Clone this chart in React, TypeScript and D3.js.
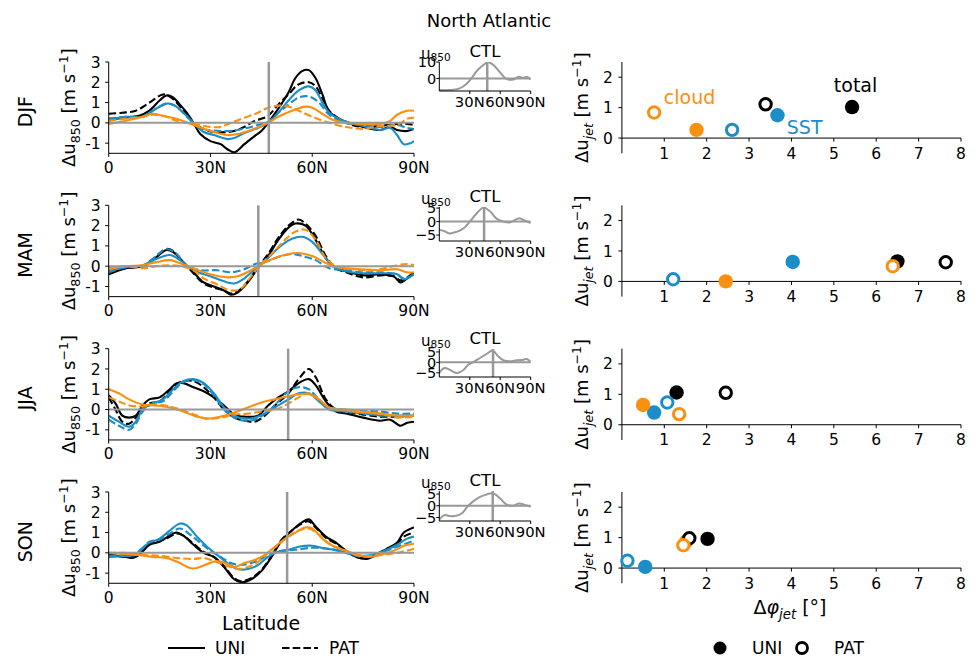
import React from "react";
import * as d3 from "d3";

type P = [number, number];

// ---------- line data: latitude (°N), Δu850 (m/s) ----------
const djfTotalUni: P[] = [[0,0.2],[3,0.22],[6,0.28],[9,0.35],[12,0.6],[15,1.1],[17,1.35],[19,1.25],[21,0.9],[23,0.5],[25,0],[27,-0.55],[30,-0.9],[33,-1.05],[35,-1.3],[37,-1.45],[40,-1.05],[43,-0.65],[45,-0.4],[47,0],[50,0.7],[53,1.5],[55,2.2],[57,2.55],[59,2.6],[61,2.2],[63,1.4],[65,0.55],[68,0.2],[70,0.05],[75,-0.2],[80,-0.35],[83,-0.2],[85,-0.35],[88,-0.4],[90,-0.3]];
const djfTotalPat: P[] = [[0,0.45],[4,0.5],[8,0.6],[12,1.0],[16,1.4],[18,1.3],[20,1.0],[23,0.4],[25,0],[28,-0.3],[31,-0.45],[35,-0.45],[37,-0.4],[40,-0.2],[43,0.1],[45,0.2],[47,0.35],[50,0.9],[53,1.4],[56,1.9],[59,2.0],[61,1.8],[63,1.2],[65,0.6],[70,0.0],[75,-0.2],[80,-0.15],[85,-0.05],[88,-0.05],[90,-0.1]];
const djfSstUni: P[] = [[0,0.15],[5,0.3],[10,0.3],[13,0.6],[17,0.95],[19,0.9],[22,0.5],[25,0],[28,-0.45],[31,-0.6],[35,-0.8],[37,-0.75],[40,-0.5],[44,-0.25],[47,0],[50,0.5],[53,1.1],[56,1.6],[59,1.8],[61,1.6],[63,1.0],[65,0.5],[70,0.05],[75,-0.15],[80,-0.35],[83,-0.25],[85,-0.6],[87,-1.05],[89,-1.0],[90,-0.9]];
const djfSstPat: P[] = [[0,0.2],[5,0.3],[10,0.3],[14,0.7],[17,0.95],[20,0.8],[23,0.3],[25,0],[28,-0.3],[31,-0.38],[35,-0.4],[38,-0.35],[42,-0.2],[45,-0.05],[47,0.05],[50,0.5],[53,0.9],[56,1.25],[59,1.3],[62,1.0],[65,0.4],[70,0],[75,-0.1],[80,-0.2],[85,-0.1],[88,-0.25],[90,-0.3]];
const djfCloudUni: P[] = [[0,-0.05],[5,0.1],[10,0.3],[13,0.45],[16,0.35],[20,0.2],[25,-0.1],[30,-0.4],[35,-0.6],[38,-0.55],[42,-0.35],[45,-0.15],[47,0],[50,0.3],[54,0.6],[58,0.8],[60,0.75],[63,0.45],[66,0.15],[70,0],[75,-0.05],[80,-0.05],[83,0.1],[85,0.4],[88,0.6],[90,0.6]];
const djfCloudPat: P[] = [[0,0.1],[5,0.2],[10,0.3],[13,0.4],[17,0.3],[20,0.1],[25,-0.05],[30,-0.2],[33,-0.2],[36,0],[40,0.25],[44,0.5],[47,0.75],[50,0.85],[53,0.8],[56,0.6],[60,0.3],[65,0],[70,-0.2],[75,-0.3],[80,-0.15],[85,-0.1],[88,0.2],[90,0.25]];

const mamTotalUni: P[] = [[0,-0.4],[5,-0.1],[10,0],[13,0.3],[17,0.8],[19,0.7],[22,0.2],[25,-0.3],[28,-0.8],[31,-1.0],[34,-1.2],[36,-1.4],[38,-1.3],[41,-0.8],[44,-0.1],[47,0.5],[50,1.3],[53,1.9],[55,2.1],[58,2.0],[61,1.3],[64,0.4],[67,-0.1],[70,-0.25],[75,-0.45],[80,-0.4],[84,-0.5],[86,-0.8],[88,-0.6],[90,-0.35]];
const mamTotalPat: P[] = [[0,-0.35],[5,-0.1],[10,0],[13,0.35],[17,0.85],[19,0.75],[22,0.2],[25,-0.35],[28,-0.85],[31,-1.05],[34,-1.2],[36,-1.35],[38,-1.25],[41,-0.75],[44,-0.05],[47,0.6],[50,1.4],[53,2.0],[56,2.3],[58,2.1],[61,1.5],[64,0.5],[67,-0.1],[70,-0.3],[75,-0.55],[80,-0.45],[84,-0.5],[86,-0.7],[88,-0.55],[90,-0.3]];
const mamSstUni: P[] = [[0,-0.2],[5,-0.05],[10,0.05],[14,0.35],[18,0.55],[21,0.3],[25,-0.2],[30,-0.5],[35,-0.8],[37,-0.85],[40,-0.6],[44,0],[47,0.4],[50,0.9],[54,1.35],[57,1.45],[60,1.2],[63,0.6],[66,0],[70,-0.25],[75,-0.35],[80,-0.35],[85,-0.4],[87,-0.65],[90,-0.4]];
const mamSstPat: P[] = [[0,-0.3],[5,-0.05],[10,0],[14,0.5],[17,0.85],[20,0.6],[23,0],[27,-0.2],[32,-0.2],[36,-0.3],[40,-0.15],[43,0.1],[46,0.2],[50,0.45],[54,0.6],[57,0.5],[61,0.3],[65,-0.1],[70,-0.2],[75,-0.3],[80,-0.3],[85,-0.4],[87,-0.6],[90,-0.4]];
const mamCloudUni: P[] = [[0,-0.15],[5,0],[10,0.05],[14,0.2],[18,0.3],[21,0.15],[25,-0.1],[30,-0.4],[35,-0.55],[38,-0.5],[42,-0.2],[45,0.1],[49,0.4],[53,0.6],[56,0.65],[60,0.5],[63,0.25],[66,0],[70,-0.1],[75,-0.15],[80,-0.2],[85,-0.15],[88,-0.3],[90,-0.3]];
const mamCloudPat: P[] = [[0,-0.1],[5,0],[10,-0.1],[14,0],[18,0.05],[21,0],[25,-0.2],[28,-0.6],[32,-0.9],[36,-1.2],[39,-1.1],[42,-0.5],[45,0.1],[48,0.6],[52,1.3],[55,1.7],[58,1.8],[61,1.3],[64,0.4],[67,0],[70,-0.1],[75,-0.2],[80,-0.15],[85,0.05],[88,0.1],[90,0.05]];

const jjaTotalUni: P[] = [[0,0.7],[2,0.3],[4,-0.3],[6,-0.4],[8,-0.3],[10,0.2],[12,0.5],[15,0.6],[18,1.0],[20,1.3],[22,1.3],[25,1.1],[28,0.9],[31,0.6],[34,0.2],[37,-0.25],[40,-0.35],[44,-0.3],[47,0.2],[50,0.6],[53,0.9],[56,1.3],[59,1.5],[61,1.2],[64,0.4],[67,-0.1],[70,-0.2],[75,-0.4],[80,-0.55],[83,-0.5],[86,-0.8],[88,-0.65],[90,-0.6]];
const jjaTotalPat: P[] = [[0,0.6],[2,0],[4,-0.6],[6,-0.7],[9,-0.2],[12,0.3],[15,0.4],[18,0.9],[21,1.35],[25,1.4],[28,1.1],[31,0.6],[34,0],[37,-0.4],[40,-0.55],[43,-0.6],[46,-0.3],[49,0.2],[53,0.8],[56,1.5],[59,2.0],[61,1.6],[64,0.5],[67,0],[70,-0.1],[75,-0.25],[80,-0.35],[85,-0.35],[90,-0.3]];
const jjaSstUni: P[] = [[0,-0.3],[3,-0.6],[6,-0.85],[8,-0.6],[10,0],[13,0.3],[16,0.5],[19,1.0],[22,1.4],[25,1.5],[28,1.3],[31,0.8],[34,0.1],[37,-0.3],[40,-0.45],[43,-0.4],[47,-0.1],[50,0.2],[53,0.5],[56,0.8],[59,0.8],[62,0.4],[65,0],[70,-0.1],[75,-0.2],[80,-0.3],[85,-0.3],[90,-0.3]];
const jjaSstPat: P[] = [[0,-0.5],[3,-0.8],[6,-1.0],[8,-0.7],[10,-0.1],[13,0.3],[16,0.4],[19,0.9],[22,1.35],[25,1.45],[28,1.25],[31,0.7],[34,0],[37,-0.4],[40,-0.55],[43,-0.5],[47,-0.1],[50,0.4],[53,0.9],[56,1.1],[59,1.0],[62,0.5],[65,0.1],[70,0],[75,-0.05],[80,-0.1],[85,-0.2],[90,-0.2]];
const jjaCloudUni: P[] = [[0,1.0],[3,0.8],[6,0.5],[10,0.25],[14,0.2],[18,0.1],[22,-0.1],[26,-0.35],[29,-0.45],[33,-0.35],[37,-0.15],[41,0.1],[45,0.35],[49,0.5],[53,0.65],[56,0.75],[59,0.75],[62,0.5],[65,0.1],[70,-0.05],[75,-0.15],[80,-0.2],[85,-0.3],[90,-0.3]];
const jjaCloudPat: P[] = [[0,0.6],[3,0.4],[6,0.2],[10,0.15],[14,0.25],[18,0.15],[22,-0.05],[26,-0.3],[29,-0.45],[33,-0.4],[37,-0.25],[41,-0.2],[45,-0.1],[49,0],[52,0.2],[56,0.6],[59,0.8],[62,0.5],[65,0.1],[70,0],[75,-0.1],[80,-0.2],[85,-0.4],[90,-0.35]];

const sonTotalUni: P[] = [[0,-0.1],[5,-0.2],[7,-0.25],[9,-0.1],[12,0.4],[15,0.55],[17,0.75],[20,1.0],[22,0.85],[25,0.4],[28,0],[31,-0.2],[34,-0.7],[37,-1.3],[39,-1.45],[42,-1.3],[45,-0.9],[48,-0.2],[51,0.6],[54,1.1],[57,1.5],[59,1.65],[61,1.3],[64,0.8],[67,0.5],[70,0.1],[73,-0.2],[76,-0.3],[79,-0.1],[82,0.2],[85,0.5],[87,1.0],[90,1.25]];
const sonTotalPat: P[] = [[0,-0.1],[5,-0.2],[7,-0.2],[9,-0.05],[12,0.45],[15,0.6],[17,0.7],[20,0.95],[22,0.85],[25,0.45],[28,0.05],[31,-0.2],[34,-0.65],[37,-1.25],[39,-1.4],[42,-1.25],[45,-0.85],[48,-0.15],[51,0.65],[54,1.1],[57,1.45],[59,1.55],[61,1.25],[64,0.75],[67,0.45],[70,0.1],[73,-0.2],[76,-0.25],[79,-0.05],[82,0.2],[85,0.45],[87,0.8],[90,1.0]];
const sonSstUni: P[] = [[0,-0.2],[5,-0.15],[8,-0.1],[9,0.1],[12,0.5],[15,0.7],[18,1.1],[21,1.45],[23,1.35],[26,0.8],[29,0.3],[32,-0.1],[35,-0.5],[38,-0.8],[41,-0.8],[44,-0.6],[47,-0.2],[50,0.05],[53,0.15],[56,0.3],[60,0.35],[64,0.2],[67,0.15],[70,0],[75,-0.15],[79,-0.05],[82,0.15],[85,0.4],[88,0.7],[90,0.8]];
const sonSstPat: P[] = [[0,-0.15],[5,-0.1],[8,-0.05],[10,0.2],[12,0.55],[15,0.65],[18,0.95],[21,1.2],[24,0.9],[27,0.5],[30,0.1],[33,-0.2],[36,-0.5],[39,-0.6],[42,-0.5],[45,-0.3],[48,0],[51,0.1],[55,0.15],[60,0.25],[65,0.2],[70,0],[75,-0.2],[80,0],[85,0.3],[90,0.6]];
const sonCloudUni: P[] = [[0,0],[5,-0.05],[9,-0.1],[13,-0.2],[17,-0.25],[21,-0.5],[24,-0.75],[26,-0.75],[29,-0.55],[32,-0.4],[35,-0.55],[37,-0.7],[40,-0.5],[43,-0.35],[46,-0.1],[49,0.3],[52,0.7],[55,1.0],[58,1.25],[60,1.2],[63,0.7],[66,0.35],[70,0.1],[73,-0.1],[77,-0.2],[80,-0.1],[84,0.1],[87,0.35],[90,0.45]];
const sonCloudPat: P[] = [[0,0],[5,0],[10,-0.1],[15,-0.15],[20,-0.25],[25,-0.3],[28,-0.25],[31,-0.4],[35,-0.65],[38,-0.8],[41,-0.7],[44,-0.45],[47,0],[50,0.4],[53,0.8],[56,1.1],[59,1.2],[62,0.9],[65,0.45],[70,0.1],[75,-0.15],[80,-0.1],[85,0],[90,0.2]];

// ---------- CTL u850 (m/s) ----------
const djfCtl: P[] = [[0,-7],[10,-7],[20,-6],[27,-3.2],[32,0.4],[38,5.3],[45,8.9],[47.5,10],[53,8.3],[60,3.6],[66,-0.2],[73,-0.6],[78,1.0],[83,0.4],[86,1.0],[90,-0.6]];
const mamCtl: P[] = [[0,-3.1],[4,-3.4],[10,-4.4],[17,-3.8],[24,-2.5],[30,0],[37,3.1],[43.5,5.2],[50,3.8],[56,1.2],[63,0],[70,-0.25],[76,0.9],[79,1.25],[84,0.4],[90,-0.6]];
const jjaCtl: P[] = [[0,-5],[5,-2.7],[10,-3.5],[17,-5.1],[24,-3.5],[28.5,-1.1],[33,0],[40,2.1],[46.5,4],[52.5,5.7],[58,2.9],[63,1],[70,0.5],[76,1],[83,1.3],[86,1.6],[90,0.2]];
const sonCtl: P[] = [[0,-5.9],[5,-4],[10,-4.4],[15,-4.4],[22,-3.3],[28.5,0],[35,2.4],[43,4.3],[53,5.3],[60,3.1],[66,0.6],[73,0],[78,1],[83,0.6],[90,-0.4]];

// ---------- jet shift / speed (DJF, MAM, JJA, SON) ----------
const totalUniDphi = [5.43, 6.5, 1.29, 2.02];
const totalUniDu = [1.02, 0.66, 1.06, 0.96];
const totalPatDphi = [3.39, 7.64, 2.45, 1.59];
const totalPatDu = [1.11, 0.63, 1.05, 0.98];
const sstUniDphi = [3.67, 4.03, 0.76, 0.55];
const sstUniDu = [0.75, 0.64, 0.4, 0.04];
const sstPatDphi = [2.6, 1.21, 1.07, 0.13];
const sstPatDu = [0.27, 0.07, 0.73, 0.24];
const cloudUniDphi = [1.76, 2.45, 0.5, 1.52];
const cloudUniDu = [0.27, 0.0, 0.65, 0.88];
const cloudPatDphi = [0.76, 6.39, 1.35, 1.45];
const cloudPatDu = [0.84, 0.5, 0.35, 0.75];

const seasons = ["DJF", "MAM", "JJA", "SON"];
const jetLat = [47.2, 44.1, 52.9, 52.6];
const latTicks = [0, 30, 60, 90];
const latTickLabels = ["0", "30N", "60N", "90N"];
const duTicks = [-1, 0, 1, 2, 3];
const duTickLabels = ["-1", "0", "1", "2", "3"];
const ctlLatTicks = [30, 60, 90];
const ctlLatTickLabels = ["30N", "60N", "90N"];
const ctlTicks = [[0, 10], [-5, 0, 5], [-5, 0, 5], [-5, 0, 5]];
const ctlTickLabels = [["0", "10"], ["−5", "0", "5"], ["−5", "0", "5"], ["−5", "0", "5"]];
const dphiTicks = [1, 2, 3, 4, 5, 6, 7, 8];
const dujTicks = [0, 1, 2];

const seasonLines = [
  [djfTotalUni, djfTotalPat, djfSstUni, djfSstPat, djfCloudUni, djfCloudPat],
  [mamTotalUni, mamTotalPat, mamSstUni, mamSstPat, mamCloudUni, mamCloudPat],
  [jjaTotalUni, jjaTotalPat, jjaSstUni, jjaSstPat, jjaCloudUni, jjaCloudPat],
  [sonTotalUni, sonTotalPat, sonSstUni, sonSstPat, sonCloudUni, sonCloudPat],
];
const ctlLines = [djfCtl, mamCtl, jjaCtl, sonCtl];

const BLACK = "#000000";
const BLUE = "#1b8ec8";
const ORANGE = "#fa900f";
const GRAY = "#999999";
const FONT = "DejaVu Sans, sans-serif";

const lineColors = [BLACK, BLACK, BLUE, BLUE, ORANGE, ORANGE];
const lineDashed = [false, true, false, true, false, true];

const TICK = 15.5;
const LABEL = 18;

export default function App() {
  const W = 977, H = 660;
  const panelH = 91.3;
  const panelTop = (i: number) => 62 + i * 143.33;
  const xLat = d3.scaleLinear().domain([0, 90]).range([108.7, 414]);
  const xIn = d3.scaleLinear().domain([0, 90]).range([439.3, 530.7]);
  const xJet = d3.scaleLinear().domain([0, 8]).range([621.9, 961]);
  const insetBox = [[62, 91], [207, 241], [349, 377], [491, 521]];
  const insetDomain = [[-7.6, 10], [-7.2, 5.4], [-7, 6.4], [-6.5, 6.3]];

  const scatterSets = [
    { dphi: totalUniDphi, du: totalUniDu, color: BLACK, open: false },
    { dphi: sstUniDphi, du: sstUniDu, color: BLUE, open: false },
    { dphi: cloudUniDphi, du: cloudUniDu, color: ORANGE, open: false },
    { dphi: totalPatDphi, du: totalPatDu, color: BLACK, open: true },
    { dphi: sstPatDphi, du: sstPatDu, color: BLUE, open: true },
    { dphi: cloudPatDphi, du: cloudPatDu, color: ORANGE, open: true },
  ];

  return (
    <svg width={W} height={H} style={{ position: "absolute", left: 0, top: 0, background: "#fff" }} fontFamily={FONT}>
      <rect x={0} y={0} width={W} height={H} fill="#fff" />
      <text x={489} y={27} textAnchor="middle" fontSize={18}>North Atlantic</text>
      <defs>
        {seasons.map((s, i) => {
          const top = panelTop(i);
          return (
            <React.Fragment key={s}>
              <clipPath id={`clipL${i}`}>
                <rect x={xLat(0)} y={top} width={xLat(90) - xLat(0)} height={panelH} />
              </clipPath>
              <clipPath id={`clipI${i}`}>
                <rect x={xIn(0)} y={insetBox[i][0]} width={xIn(90) - xIn(0)} height={insetBox[i][1] - insetBox[i][0]} />
              </clipPath>
            </React.Fragment>
          );
        })}
      </defs>
      {seasons.map((s, i) => {
        const top = panelTop(i);
        const bottom = top + panelH;
        const y = d3.scaleLinear().domain([-1.5, 3]).range([bottom, top]);
        const line = d3.line<P>().x(d => xLat(d[0])).y(d => y(d[1])).curve(d3.curveCatmullRom.alpha(0.5));
        const yi = d3.scaleLinear().domain(insetDomain[i]).range([insetBox[i][1], insetBox[i][0]]);
        const lineI = d3.line<P>().x(d => xIn(d[0])).y(d => yi(d[1])).curve(d3.curveCatmullRom.alpha(0.5));
        const yj = d3.scaleLinear().domain([-0.5, 2.5]).range([bottom, top]);
        const mid = (top + bottom) / 2;
        return (
          <g key={s}>
            {/* season label */}
            <text transform={`translate(32,${mid + 4}) rotate(-90)`} textAnchor="middle" fontSize={19}>{s}</text>
            {/* left y label */}
            <text transform={`translate(75,${mid}) rotate(-90)`} textAnchor="middle" fontSize={LABEL}>
              <tspan>Δu</tspan>
              <tspan dy={4.5} fontSize={12.6}>850</tspan>
              <tspan dy={-4.5}> [m s</tspan>
              <tspan dy={-7} fontSize={12.6}>−1</tspan>
              <tspan dy={7}>]</tspan>
            </text>
            {/* lines */}
            <g clipPath={`url(#clipL${i})`}>
              {seasonLines[i].map((d, k) => (
                <path key={k} d={line(d) || ""} fill="none" stroke={lineColors[k]} strokeWidth={2.1}
                  strokeDasharray={lineDashed[k] ? "7.5,3.2" : undefined} />
              ))}
            </g>
            <line x1={xLat(0)} x2={xLat(90)} y1={y(0)} y2={y(0)} stroke={GRAY} strokeWidth={2} />
            <line x1={xLat(jetLat[i])} x2={xLat(jetLat[i])} y1={top} y2={bottom} stroke={GRAY} strokeWidth={2.5} />
            {/* axes */}
            <line x1={xLat(0)} x2={xLat(0)} y1={top} y2={bottom} stroke="#000" strokeWidth={1} />
            <line x1={xLat(0)} x2={xLat(90)} y1={bottom} y2={bottom} stroke="#000" strokeWidth={1} />
            {duTicks.map((t, k) => (
              <g key={t}>
                <line x1={xLat(0) - 3.5} x2={xLat(0)} y1={y(t)} y2={y(t)} stroke="#000" />
                <text x={xLat(0) - 8} y={y(t)} dy="0.36em" textAnchor="end" fontSize={TICK}>{duTickLabels[k]}</text>
              </g>
            ))}
            {latTicks.map((t, k) => (
              <g key={t}>
                <line x1={xLat(t)} x2={xLat(t)} y1={bottom} y2={bottom + 3.5} stroke="#000" />
                <text x={xLat(t)} y={bottom + 19.5} textAnchor="middle" fontSize={TICK}>{latTickLabels[k]}</text>
              </g>
            ))}
            {/* inset CTL */}
            <text x={(xIn(0) + xIn(90)) / 2} y={insetBox[i][0] - 5} textAnchor="middle" fontSize={16.5}>CTL</text>
            <text x={421} y={insetBox[i][0] - 3} fontSize={15}>
              <tspan>u</tspan>
              <tspan dy={2} fontSize={10.5}>850</tspan>
            </text>
            <g clipPath={`url(#clipI${i})`}>
              <path d={lineI(ctlLines[i]) || ""} fill="none" stroke={GRAY} strokeWidth={2} />
            </g>
            <line x1={xIn(0)} x2={xIn(90)} y1={yi(0)} y2={yi(0)} stroke={GRAY} strokeWidth={2} />
            <line x1={xIn(jetLat[i])} x2={xIn(jetLat[i])} y1={insetBox[i][0]} y2={insetBox[i][1]} stroke={GRAY} strokeWidth={2.5} />
            <line x1={xIn(0)} x2={xIn(0)} y1={insetBox[i][0]} y2={insetBox[i][1]} stroke="#000" />
            <line x1={xIn(0)} x2={xIn(90)} y1={insetBox[i][1]} y2={insetBox[i][1]} stroke="#000" />
            {ctlTicks[i].map((t, k) => (
              <g key={t}>
                <line x1={xIn(0) - 3} x2={xIn(0)} y1={yi(t)} y2={yi(t)} stroke="#000" />
                <text x={xIn(0) - 3} y={yi(t)} dy="0.36em" textAnchor="end" fontSize={14.5}>{ctlTickLabels[i][k]}</text>
              </g>
            ))}
            {ctlLatTicks.map((t, k) => (
              <g key={t}>
                <line x1={xIn(t)} x2={xIn(t)} y1={insetBox[i][1]} y2={insetBox[i][1] + 3} stroke="#000" />
                <text x={xIn(t)} y={insetBox[i][1] + 16} textAnchor="middle" fontSize={14.8}>{ctlLatTickLabels[k]}</text>
              </g>
            ))}
            {/* scatter */}
            <text transform={`translate(588,${mid}) rotate(-90)`} textAnchor="middle" fontSize={LABEL}>
              <tspan>Δu</tspan>
              <tspan dy={4.5} fontSize={12.6} fontStyle="italic">jet</tspan>
              <tspan dy={-4.5}> [m s</tspan>
              <tspan dy={-7} fontSize={12.6}>−1</tspan>
              <tspan dy={7}>]</tspan>
            </text>
            <line x1={xJet(0)} x2={xJet(0)} y1={top} y2={bottom} stroke="#000" />
            <line x1={xJet(0)} x2={xJet(8)} y1={yj(0)} y2={yj(0)} stroke="#000" />
            {dujTicks.map(t => (
              <g key={t}>
                <line x1={xJet(0) - 3.5} x2={xJet(0)} y1={yj(t)} y2={yj(t)} stroke="#000" />
                <text x={xJet(0) - 9} y={yj(t)} dy="0.36em" textAnchor="end" fontSize={TICK}>{t}</text>
              </g>
            ))}
            {dphiTicks.map(t => (
              <g key={t}>
                <line x1={xJet(t)} x2={xJet(t)} y1={yj(0)} y2={yj(0) + 3.5} stroke="#000" />
                <text x={xJet(t)} y={yj(0) + 20.5} textAnchor="middle" fontSize={TICK}>{t}</text>
              </g>
            ))}
            {scatterSets.map((st, k) => (
              st.open ? (
                <circle key={k} cx={xJet(st.dphi[i])} cy={yj(st.du[i])} r={5.7} fill="#fff" stroke={st.color} strokeWidth={3} />
              ) : (
                <circle key={k} cx={xJet(st.dphi[i])} cy={yj(st.du[i])} r={7.2} fill={st.color} />
              )
            ))}
            {i === 0 && (
              <g fontSize={19}>
                <text x={xJet(0.99)} y={yj(1.12)} fill={ORANGE}>cloud</text>
                <text x={xJet(5.0)} y={yj(1.52)} fill={BLACK}>total</text>
                <text x={xJet(3.89)} y={yj(0.14)} fill={BLUE}>SST</text>
              </g>
            )}
          </g>
        );
      })}
      {/* bottom labels */}
      <text x={261} y={630} textAnchor="middle" fontSize={19}>Latitude</text>
      <text x={790} y={614} textAnchor="middle" fontSize={19}>
        <tspan>Δ</tspan>
        <tspan fontStyle="italic">φ</tspan>
        <tspan dy={4.5} fontSize={13.3} fontStyle="italic">jet</tspan>
        <tspan dy={-4.5}> [°]</tspan>
      </text>
      {/* legends */}
      <line x1={168} x2={205} y1={648} y2={648} stroke="#000" strokeWidth={2} />
      <text x={215} y={654} fontSize={17}>UNI</text>
      <line x1={282} x2={318} y1={648} y2={648} stroke="#000" strokeWidth={2} strokeDasharray="7.5,3.2" />
      <text x={329} y={654} fontSize={17}>PAT</text>
      <circle cx={720} cy={648} r={6.5} fill="#000" />
      <text x={752} y={654} fontSize={17}>UNI</text>
      <circle cx={802} cy={648} r={5.5} fill="#fff" stroke="#000" strokeWidth={2.8} />
      <text x={834} y={654} fontSize={17}>PAT</text>
    </svg>
  );
}
